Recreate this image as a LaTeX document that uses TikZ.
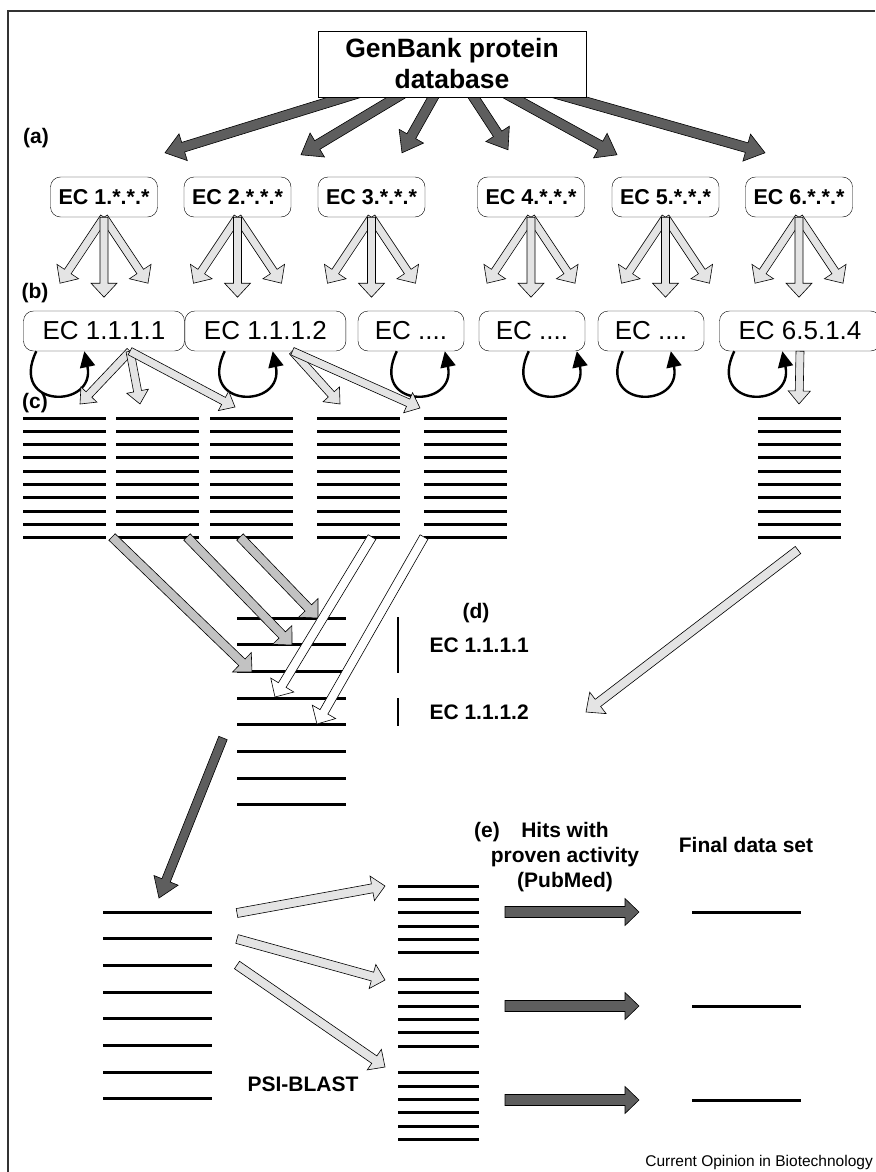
\documentclass[tikz,border=0pt]{standalone}
\usepackage{fontspec}
\setmainfont{Liberation Sans}
\usetikzlibrary{arrows.meta,positioning,calc,backgrounds}

\definecolor{darkfill}{HTML}{5E5E5E}
\definecolor{midfill}{HTML}{C2C2C2}
\definecolor{lightfill}{HTML}{E4E4E4}

% block arrow: style, tail, tip, half shaft, half head, head length
\newcommand{\blockarrow}[6]{%
  \path[#1] let \p1=(#2), \p2=(#3), \n1={veclen(\x2-\x1,\y2-\y1)},
      \n2={(\x2-\x1)/\n1}, \n3={(\y2-\y1)/\n1},
      \p3=({\x2-(\n2)*#6},{\y2-(\n3)*#6}) in
    ({\x1-(\n3)*#4},{\y1+(\n2)*#4}) -- ({\x3-(\n3)*#4},{\y3+(\n2)*#4})
    -- ({\x3-(\n3)*#5},{\y3+(\n2)*#5}) -- (\p2)
    -- ({\x3+(\n3)*#5},{\y3-(\n2)*#5}) -- ({\x3+(\n3)*#4},{\y3-(\n2)*#4})
    -- ({\x1+(\n3)*#4},{\y1-(\n2)*#4}) -- cycle;}
\newcommand{\selfloop}[2]{%
  \draw[loopline] ($(#1.south west)+(#2,0)$) .. controls ($(#1.south west)+(#2-28,58)$)
    and ($(#1.south west)+(#2+60,58)$) .. ($(#1.south west)+(#2+48,0)$);}

\begin{document}
\begin{tikzpicture}[x=1pt,y=-1pt,
  dbbox/.style={draw,fill=white,minimum width=268pt,minimum height=66pt,align=center,
    font=\bfseries\fontsize{26.5}{31}\selectfont},
  ecbox/.style={draw,rounded corners=10pt,minimum width=107pt,minimum height=40pt,
    inner sep=2pt,font=\bfseries\fontsize{21.5}{24}\selectfont},
  subbox/.style={draw,rounded corners=10pt,minimum height=40pt,inner sep=2pt,
    font=\fontsize{26}{28}\selectfont},
  lbl/.style={font=\bfseries\fontsize{21}{25}\selectfont,align=center},
  stackline/.style={line width=3pt},
  loopline/.style={line width=2.4pt,-{Triangle[length=16pt,width=15pt]}},
  darkarrow/.style={draw,fill=darkfill,line width=0.6pt},
  midarrow/.style={draw,fill=midfill,line width=0.6pt},
  lightarrow/.style={draw,fill=lightfill,line width=0.6pt},
  whitearrow/.style={draw,fill=white,line width=0.6pt}]
\useasboundingbox (0,0) rectangle (875,1172);
\draw[line width=1.3pt,black!80] (8,1172) -- (8,11) -- (875,11);

\node[dbbox] (db) at (452,64) {GenBank protein\\database};
\foreach \i/\xc in {1/104,2/237.5,3/371.5,4/531,5/665.5,6/799}
  \node[ecbox] (ec\i) at (\xc,197) {EC \i.*.*.*};
\begin{scope}[on background layer]
\blockarrow{darkarrow}{db.center}{$(ec1.north)+(61,-24)$}{5}{14}{19}
\blockarrow{darkarrow}{db.center}{$(ec2.north)+(63.5,-22)$}{5}{14}{19}
\blockarrow{darkarrow}{db.center}{$(ec3.north)+(30.5,-24)$}{5}{14}{19}
\blockarrow{darkarrow}{db.center}{$(ec4.north)+(-23,-27)$}{5}{14}{19}
\blockarrow{darkarrow}{db.center}{$(ec5.north)+(-48.5,-22)$}{5}{14}{19}
\blockarrow{darkarrow}{db.center}{$(ec6.north)+(-34,-24)$}{5}{14}{19}
\end{scope}
\node[lbl] (la) at (36,138) {(a)};
\foreach \i in {1,...,6} {
  \blockarrow{lightarrow}{ec\i.south}{$(ec\i.south)+(-44,66)$}{4}{13}{14}
  \blockarrow{lightarrow}{ec\i.south}{$(ec\i.south)+(44,66)$}{4}{13}{14}
  \blockarrow{lightarrow}{ec\i.south}{$(ec\i.south)+(0,80)$}{4}{13}{14}
}

\node[lbl] (lb) at (35,293) {(b)};
\node[subbox,minimum width=161pt] (b1) at (104,331) {EC 1.1.1.1};
\node[subbox,minimum width=161pt,right=0pt of b1] (b2) {EC 1.1.1.2};
\node[subbox,minimum width=106pt] (b3) at (411,331) {EC ....};
\node[subbox,minimum width=106pt] (b4) at (532,331) {EC ....};
\node[subbox,minimum width=106pt] (b5) at (651,331) {EC ....};
\node[subbox,minimum width=161pt] (b6) at (800,331) {EC 6.5.1.4};
\selfloop{b1}{13}
\selfloop{b2}{40}
\selfloop{b3}{39}
\selfloop{b4}{50}
\selfloop{b5}{25}
\selfloop{b6}{15}

\node[lbl] (lc) at (35,403) {(c)};
\foreach \xc [count=\i] in {23,116,210,317,424,758} {
  \coordinate (c\i) at (\xc,418);
  \foreach \k in {0,...,9}
    \draw[stackline] ($(c\i)+(0,13.33*\k)$) -- ++(83,0);
}
\blockarrow{lightarrow}{$(b1.south)+(26,0)$}{$(c1)+(57,-14)$}{4}{11}{13}
\blockarrow{lightarrow}{$(b1.south)+(26,0)$}{$(c2)+(24,-14)$}{4}{11}{13}
\blockarrow{lightarrow}{$(b1.south)+(26,0)$}{$(c3)+(25,-11)$}{4}{11}{13}
\blockarrow{lightarrow}{$(b2.south)+(27,0)$}{$(c4)+(23,-14)$}{4}{11}{13}
\blockarrow{lightarrow}{$(b2.south)+(27,0)$}{$(c5)+(-4,-10)$}{4}{11}{13}
\blockarrow{lightarrow}{b6.south}{$(c6)+(41,-14)$}{4}{11}{13}

\coordinate (d) at (237,618);
\foreach \k in {0,...,7}
  \draw[stackline] ($(d)+(0,26.7*\k)$) -- ++(109,0);
\draw[line width=2.5pt] ($(d)+(161,-1)$) -- ++(0,56);
\draw[line width=2.5pt] ($(d)+(161,80)$) -- ++(0,28);
\node[lbl] (ld) at (476,613) {(d)};
\node[lbl,anchor=west] (d1) at (426,645) {EC 1.1.1.1};
\node[lbl,anchor=west] (d2) at (426,712) {EC 1.1.1.2};
\blockarrow{midarrow}{$(c1)+(89,119)$}{$(d)+(15,54)$}{4.5}{13.5}{14}
\blockarrow{midarrow}{$(c2)+(71,119)$}{$(d)+(55,27)$}{4.5}{13.5}{14}
\blockarrow{midarrow}{$(c3)+(30,119)$}{$(d)+(81,0)$}{4.5}{13.5}{14}
\blockarrow{whitearrow}{$(c4)+(55,119)$}{$(d)+(38,79)$}{4.5}{13.5}{14}
\blockarrow{whitearrow}{$(c5)+(0,119)$}{$(d)+(80,106)$}{4.5}{13.5}{14}
\blockarrow{lightarrow}{$(c6)+(40,132)$}{$(d)+(349,94)$}{4.5}{13.5}{15}

\coordinate (e) at (103,912);
\foreach \k in {0,...,7}
  \draw[stackline] ($(e)+(0,26.7*\k)$) -- ++(109,0);
\blockarrow{darkarrow}{$(d)+(-14,120)$}{$(e)+(56,-14)$}{4.5}{13}{19}

\coordinate (f) at (398,886);
\foreach \k in {0,1,2,3,4,5,7,8,9,10,11,12,14,15,16,17,18,19}
  \draw[stackline] ($(f)+(0,13.35*\k)$) -- ++(81,0);
\blockarrow{lightarrow}{$(e)+(134,1)$}{$(f)+(-13,0)$}{4.5}{12.5}{13}
\blockarrow{lightarrow}{$(e)+(134,27)$}{$(f)+(-13,94)$}{4.5}{12.5}{13}
\blockarrow{lightarrow}{$(e)+(134,53)$}{$(f)+(-13,181)$}{4.5}{12.5}{13}
\node[lbl] (psi) at (303,1084) {PSI-BLAST};

\node[lbl] (le) at (487,832) {(e)};
\node[lbl] (hits) at (565,857) {Hits with\\proven activity\\(PubMed)};
\node[lbl] (final) at (746,845) {Final data set};
\coordinate (g) at (692,912);
\foreach \dy in {0,94,188} {
  \blockarrow{darkarrow}{$(f)+(107,26+\dy)$}{$(f)+(241,26+\dy)$}{5.5}{13.5}{14}
  \draw[stackline] ($(g)+(0,\dy)$) -- ++(109,0);
}
\node[anchor=east,font=\fontsize{15.5}{18}\selectfont,inner sep=1pt] (credit) at (874,1162)
  {Current Opinion in Biotechnology};
\end{tikzpicture}
\end{document}
